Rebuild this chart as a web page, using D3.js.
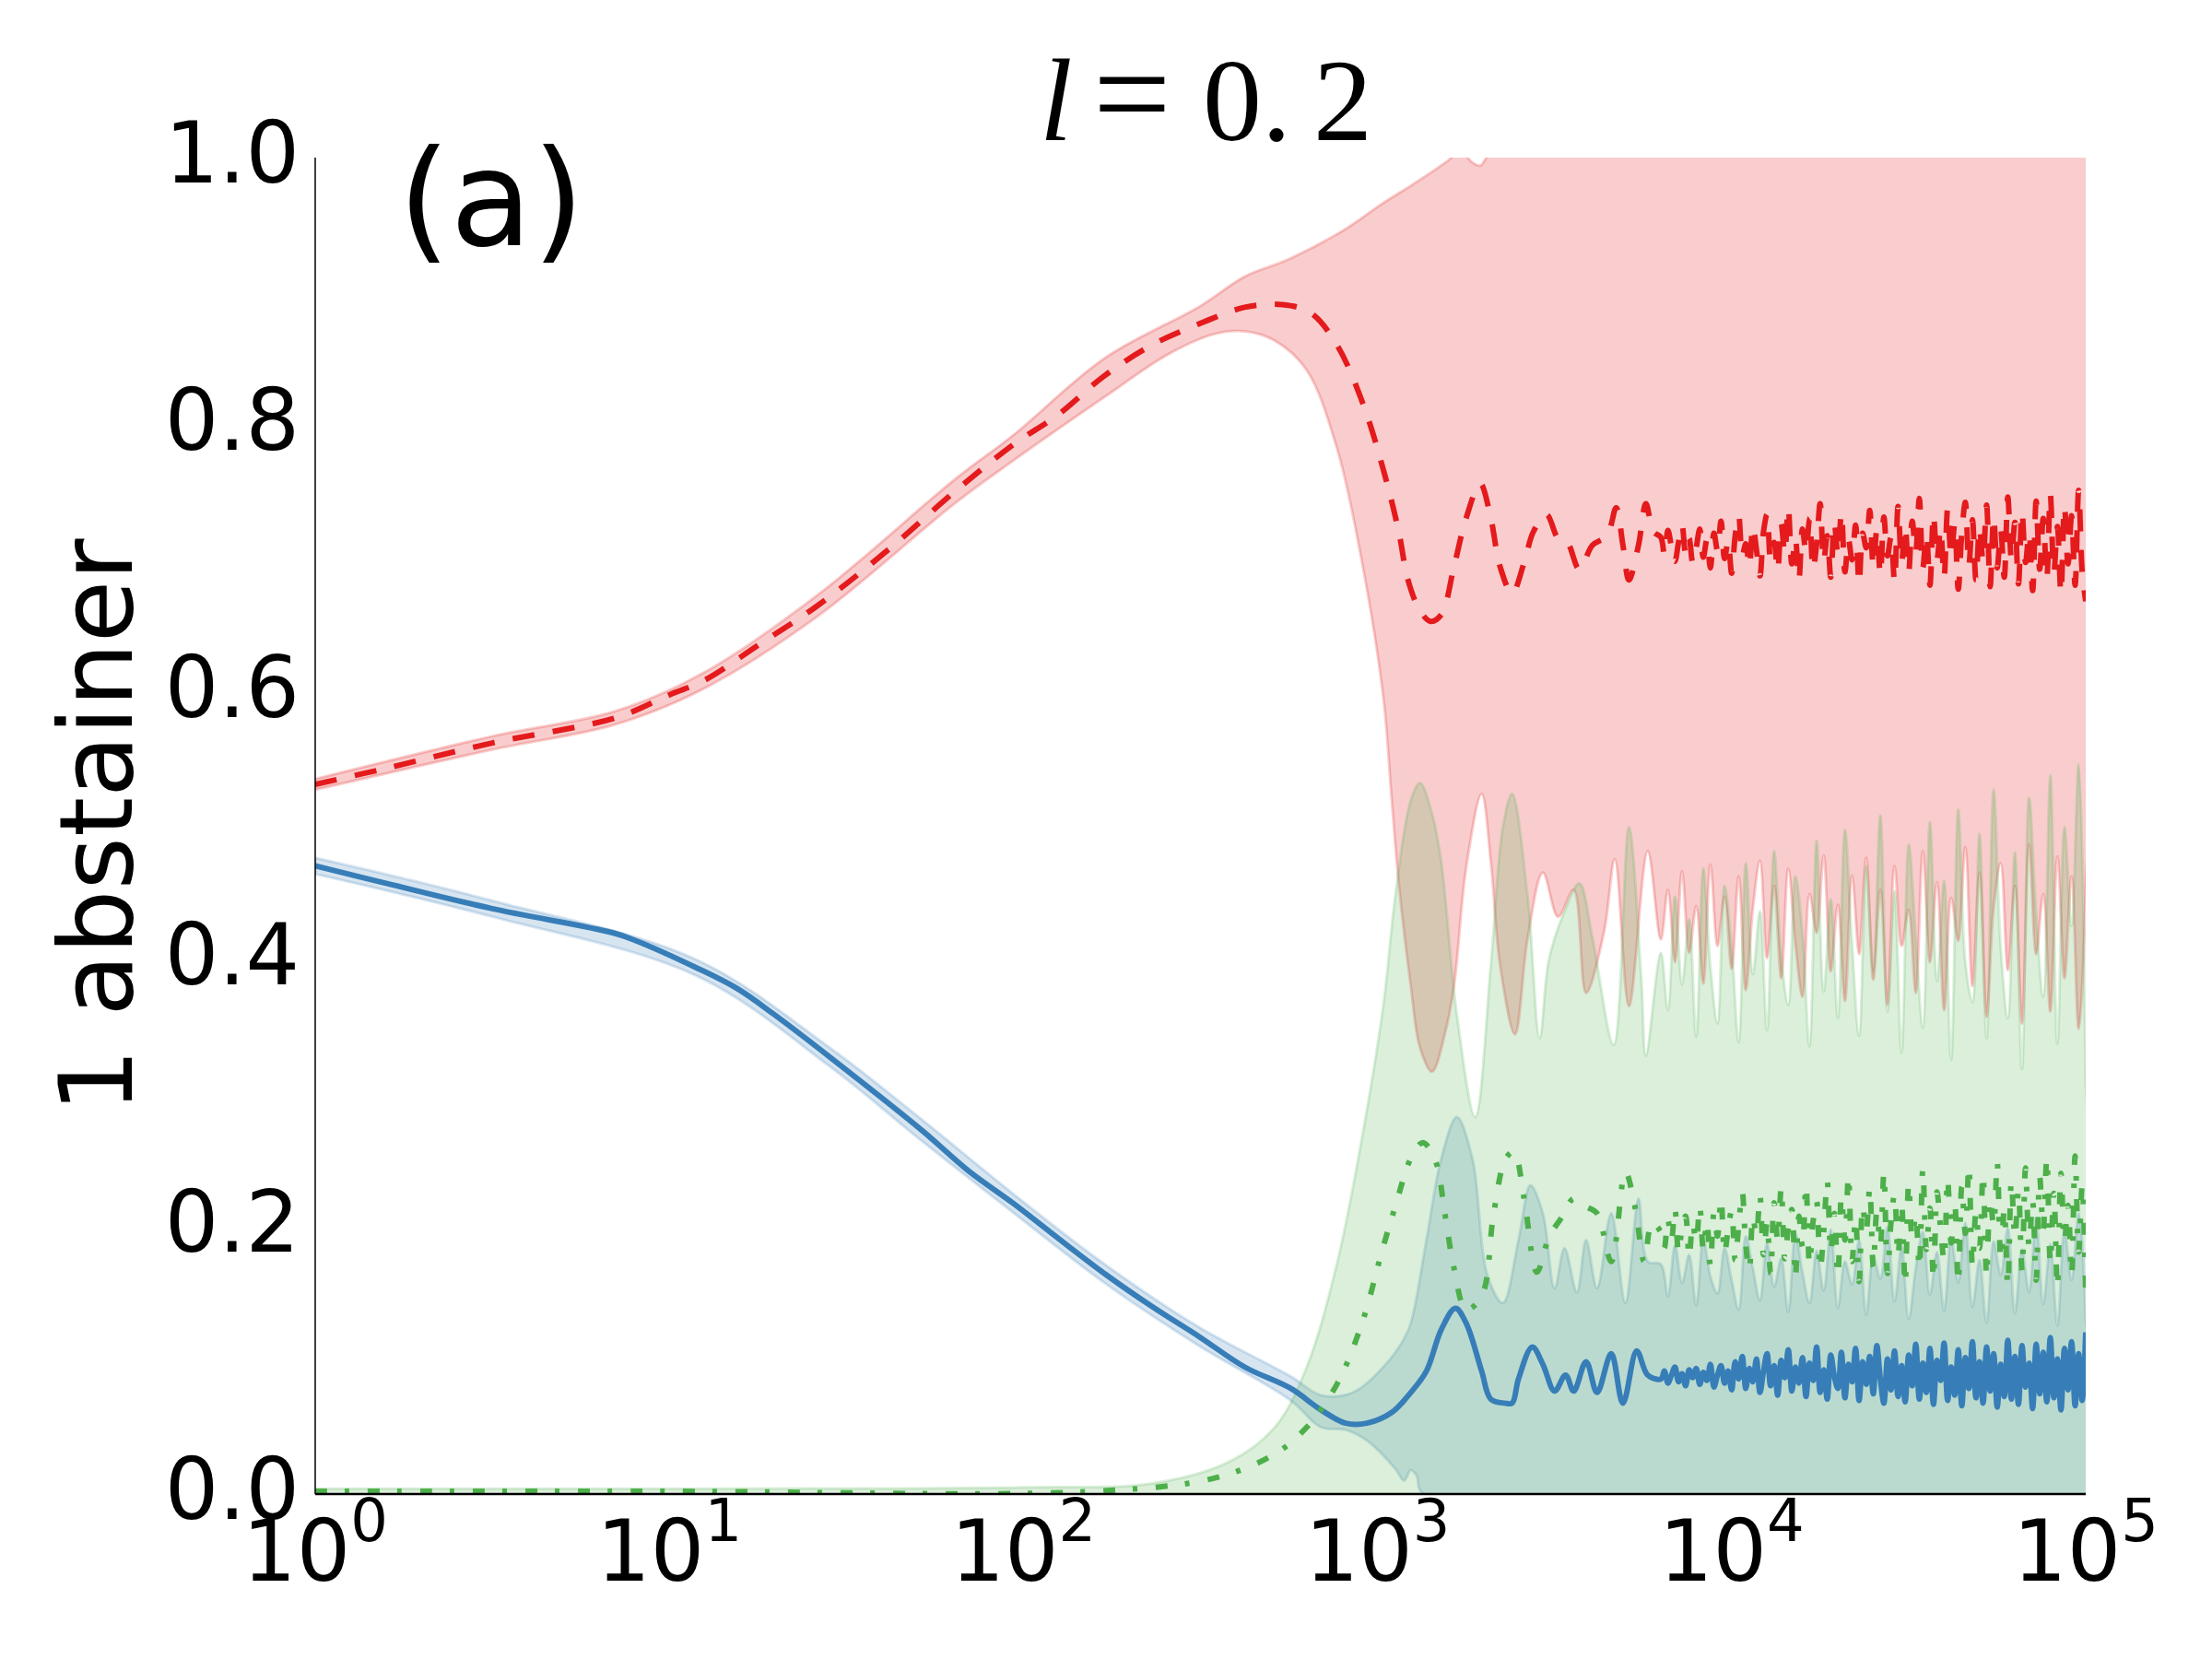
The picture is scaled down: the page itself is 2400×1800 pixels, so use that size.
<!DOCTYPE html>
<html>
<head>
<meta charset="utf-8">
<script src="https://cdn.jsdelivr.net/npm/d3@7"></script>
<style>
  body { margin: 0; background: #fff; }
</style>
</head>
<body>
<div id="container"></div>
<script>
// every series is a list of [log10(t), value]

let xTickExps = [0, 1, 2, 3, 4, 5];
let yTicks = [0.0, 0.2, 0.4, 0.6, 0.8, 1.0];

// mean curves, early part
let redMeanHead = [[0,0.531],[0.2,0.543],[0.5,0.562],[0.85,0.581],[1.0,0.598],[1.1,0.609],[1.25,0.635],[1.42,0.665],[1.62,0.707],[1.81,0.751],[1.97,0.785],[2.1,0.808],[2.23,0.837],[2.365,0.860],[2.5,0.876],[2.625,0.888],[2.73,0.890],[2.81,0.884],[2.885,0.860],[2.96,0.815],[3.02,0.763],[3.06,0.72],[3.086,0.684],[3.12,0.661],[3.15,0.653],[3.18,0.658],[3.216,0.694],[3.25,0.730],[3.29,0.756],[3.32,0.730],[3.346,0.694],[3.38,0.674],[3.414,0.697],[3.44,0.72],[3.477,0.733],[3.51,0.715],[3.536,0.712],[3.57,0.692],[3.607,0.71],[3.648,0.717],[3.674,0.738],[3.693,0.71],[3.71,0.684],[3.737,0.71],[3.758,0.741],[3.779,0.72]];
let blueMeanHead = [[0,0.470],[0.2,0.457],[0.5,0.438],[0.84,0.420],[0.906,0.414],[1.075,0.394],[1.193,0.378],[1.295,0.359],[1.453,0.327],[1.714,0.272],[1.844,0.242],[1.974,0.217],[2.1,0.191],[2.234,0.164],[2.365,0.140],[2.495,0.118],[2.625,0.095],[2.755,0.079],[2.84,0.063],[2.91,0.053],[2.97,0.053],[3.04,0.061],[3.094,0.076],[3.138,0.092],[3.18,0.123],[3.22,0.139],[3.25,0.128],[3.294,0.092],[3.32,0.071],[3.36,0.068],[3.38,0.068],[3.398,0.086],[3.437,0.110],[3.467,0.097],[3.50,0.077],[3.531,0.089],[3.554,0.077],[3.589,0.099],[3.62,0.076],[3.66,0.105],[3.693,0.068],[3.732,0.107],[3.763,0.089]];
let greenMeanHead = [[0,0.002],[1,0.002],[2.2,0.002],[2.54,0.012],[2.71,0.030],[2.80,0.050],[2.885,0.082],[2.955,0.127],[3.016,0.185],[3.05,0.215],[3.094,0.251],[3.128,0.263],[3.164,0.249],[3.19,0.21],[3.216,0.169],[3.25,0.138],[3.294,0.148],[3.328,0.21],[3.362,0.251],[3.385,0.256],[3.414,0.221],[3.45,0.166],[3.484,0.192],[3.52,0.207],[3.554,0.221],[3.589,0.215],[3.62,0.21],[3.66,0.174],[3.70,0.241],[3.727,0.215],[3.753,0.174],[3.775,0.203]];

// band edges, early part
let redHi = [[0,0.535],[0.5,0.567],[0.85,0.586],[1.1,0.615],[1.42,0.673],[1.81,0.760],[1.97,0.792],[2.23,0.850],[2.5,0.889],[2.625,0.911],[2.75,0.924],[2.9,0.945],[3.016,0.966],[3.1,0.98],[3.2,0.998],[3.23,1.005],[3.27,0.996],[3.29,0.994],[3.32,1.003],[3.5,1.006],[4.0,1.003],[4.5,1.007],[5.0,1.004]];
let redLoHead = [[0,0.527],[0.5,0.557],[0.85,0.576],[1.1,0.603],[1.42,0.657],[1.81,0.742],[1.97,0.773],[2.23,0.821],[2.41,0.853],[2.54,0.868],[2.625,0.870],[2.71,0.863],[2.80,0.841],[2.885,0.783],[2.955,0.699],[3.016,0.597],[3.04,0.52],[3.06,0.457],[3.094,0.38],[3.12,0.334],[3.154,0.316],[3.19,0.344],[3.216,0.38],[3.25,0.468],[3.294,0.524],[3.32,0.473],[3.346,0.396],[3.388,0.344],[3.424,0.416],[3.467,0.465],[3.51,0.432],[3.554,0.452],[3.589,0.375],[3.64,0.421],[3.67,0.475],[3.71,0.365],[3.763,0.481]];
let greenHiHead = [[0,0.004],[1,0.004],[2.0,0.005],[2.365,0.008],[2.58,0.024],[2.71,0.050],[2.80,0.095],[2.885,0.172],[2.955,0.265],[3.016,0.365],[3.05,0.447],[3.094,0.519],[3.12,0.532],[3.154,0.509],[3.18,0.473],[3.224,0.359],[3.276,0.282],[3.32,0.396],[3.354,0.499],[3.38,0.524],[3.424,0.447],[3.458,0.341],[3.484,0.40],[3.528,0.436],[3.57,0.457],[3.607,0.416],[3.667,0.336],[3.71,0.499],[3.745,0.386],[3.758,0.328]];
let greenLo = [[0,0],[5,0]];
let blueHiHead = [[0,0.476],[0.5,0.444],[1.075,0.400],[1.453,0.334],[1.714,0.280],[1.974,0.224],[2.234,0.171],[2.495,0.125],[2.755,0.088],[2.84,0.074],[2.93,0.076],[3.016,0.095],[3.07,0.114],[3.094,0.128],[3.138,0.19],[3.18,0.251],[3.224,0.282],[3.268,0.251],[3.31,0.164],[3.354,0.143],[3.398,0.19],[3.432,0.231],[3.467,0.21],[3.50,0.154],[3.528,0.184],[3.563,0.151],[3.589,0.19],[3.62,0.154],[3.66,0.21],[3.70,0.143],[3.737,0.221],[3.763,0.174]];
let blueLo = [[0,0.464],[0.5,0.432],[1.075,0.388],[1.453,0.320],[1.714,0.264],[1.974,0.210],[2.234,0.157],[2.495,0.111],[2.755,0.070],[2.84,0.050],[2.91,0.048],[2.97,0.040],[3.05,0.019],[3.075,0.010],[3.094,0.018],[3.11,0.014],[3.13,0],[5,0]];

// noisy tail, fine grid for the means
let tailFine = [3.80,3.81,3.82,3.83,3.84,3.85,3.86,3.87,3.88,3.89,
  3.90,3.91,3.92,3.93,3.94,3.95,3.96,3.97,3.98,3.99,
  4.00,4.01,4.02,4.03,4.04,4.05,4.06,4.07,4.08,4.09,
  4.10,4.11,4.12,4.13,4.14,4.15,4.16,4.17,4.18,4.19,
  4.20,4.21,4.22,4.23,4.24,4.25,4.26,4.27,4.28,4.29,
  4.30,4.31,4.32,4.33,4.34,4.35,4.36,4.37,4.38,4.39,
  4.40,4.41,4.42,4.43,4.44,4.45,4.46,4.47,4.48,4.49,
  4.50,4.51,4.52,4.53,4.54,4.55,4.56,4.57,4.58,4.59,
  4.60,4.61,4.62,4.63,4.64,4.65,4.66,4.67,4.68,4.69,
  4.70,4.71,4.72,4.73,4.74,4.75,4.76,4.77,4.78,4.79,
  4.80,4.81,4.82,4.83,4.84,4.85,4.86,4.87,4.88,4.89,
  4.90,4.91,4.92,4.93,4.94,4.95,4.96,4.97,4.98,4.99,5.00];
let redMeanTail = [0.716,0.703,0.721,0.709,0.698,0.712,0.725,0.704,0.715,0.697,
  0.708,0.722,0.701,0.714,0.693,0.719,0.706,0.728,0.700,0.713,
  0.689,0.717,0.732,0.702,0.711,0.694,0.724,0.707,0.687,0.720,
  0.733,0.699,0.712,0.691,0.726,0.704,0.738,0.696,0.715,0.684,
  0.722,0.705,0.730,0.692,0.711,0.741,0.698,0.717,0.686,0.727,
  0.703,0.734,0.690,0.714,0.699,0.725,0.681,0.719,0.708,0.736,
  0.694,0.721,0.688,0.731,0.702,0.716,0.683,0.739,0.697,0.724,
  0.690,0.728,0.705,0.745,0.693,0.718,0.680,0.733,0.699,0.722,
  0.686,0.737,0.701,0.726,0.677,0.719,0.742,0.695,0.729,0.684,
  0.723,0.698,0.740,0.679,0.731,0.693,0.721,0.686,0.746,0.700,
  0.727,0.681,0.735,0.697,0.719,0.676,0.743,0.692,0.730,0.685,
  0.748,0.689,0.724,0.674,0.739,0.696,0.732,0.680,0.751,0.690,0.668];
let blueMeanTail = [0.086,0.092,0.083,0.089,0.095,0.084,0.090,0.081,0.093,0.087,
  0.094,0.082,0.091,0.085,0.097,0.080,0.089,0.096,0.083,0.092,
  0.078,0.099,0.086,0.103,0.079,0.094,0.084,0.101,0.076,0.092,
  0.105,0.081,0.096,0.074,0.100,0.087,0.108,0.077,0.095,0.083,
  0.102,0.073,0.098,0.085,0.110,0.076,0.093,0.071,0.104,0.088,
  0.079,0.106,0.072,0.097,0.084,0.109,0.070,0.099,0.082,0.103,
  0.075,0.111,0.086,0.068,0.101,0.078,0.107,0.073,0.096,0.069,
  0.104,0.081,0.112,0.071,0.098,0.076,0.109,0.067,0.100,0.085,
  0.113,0.070,0.095,0.074,0.108,0.066,0.102,0.079,0.114,0.072,
  0.099,0.068,0.110,0.077,0.105,0.065,0.097,0.073,0.115,0.071,
  0.103,0.067,0.111,0.080,0.098,0.064,0.112,0.075,0.106,0.069,
  0.117,0.072,0.101,0.063,0.109,0.078,0.114,0.066,0.105,0.070,0.121];
let greenMeanTail = [0.196,0.184,0.205,0.190,0.213,0.181,0.199,0.208,0.177,0.202,
  0.189,0.215,0.183,0.204,0.171,0.210,0.193,0.221,0.180,0.198,
  0.212,0.175,0.201,0.226,0.186,0.168,0.207,0.194,0.223,0.179,
  0.203,0.165,0.218,0.190,0.229,0.176,0.199,0.213,0.162,0.208,
  0.185,0.231,0.172,0.204,0.219,0.168,0.196,0.234,0.181,0.210,
  0.163,0.222,0.190,0.238,0.174,0.206,0.159,0.215,0.197,0.229,
  0.170,0.211,0.186,0.240,0.165,0.203,0.224,0.178,0.217,0.157,
  0.232,0.192,0.209,0.169,0.243,0.183,0.214,0.161,0.226,0.199,
  0.175,0.236,0.188,0.218,0.158,0.230,0.195,0.245,0.171,0.211,
  0.184,0.239,0.163,0.221,0.201,0.248,0.176,0.213,0.156,0.234,
  0.192,0.227,0.167,0.244,0.186,0.219,0.160,0.237,0.198,0.251,
  0.173,0.225,0.155,0.240,0.189,0.216,0.164,0.253,0.181,0.231,0.149];

// noisy tail, coarse grid for the band edges
let tailCoarse = [3.80,3.82,3.84,3.86,3.88,3.90,3.92,3.94,3.96,3.98,
  4.00,4.02,4.04,4.06,4.08,4.10,4.12,4.14,4.16,4.18,
  4.20,4.22,4.24,4.26,4.28,4.30,4.32,4.34,4.36,4.38,
  4.40,4.42,4.44,4.46,4.48,4.50,4.52,4.54,4.56,4.58,
  4.60,4.62,4.64,4.66,4.68,4.70,4.72,4.74,4.76,4.78,
  4.80,4.82,4.84,4.86,4.88,4.90,4.92,4.94,4.96,4.98,5.00];
let redLoTail = [0.415,0.452,0.398,0.466,0.405,0.440,0.382,0.471,0.410,0.447,
  0.393,0.462,0.377,0.438,0.474,0.401,0.455,0.386,0.468,0.412,
  0.372,0.449,0.420,0.478,0.391,0.441,0.369,0.463,0.404,0.476,
  0.385,0.452,0.366,0.470,0.410,0.437,0.375,0.481,0.398,0.458,
  0.362,0.446,0.414,0.484,0.380,0.465,0.357,0.439,0.472,0.392,
  0.455,0.352,0.486,0.404,0.449,0.361,0.477,0.386,0.462,0.348,0.455];
let greenHiTail = [0.405,0.362,0.447,0.381,0.430,0.342,0.468,0.395,0.352,0.455,
  0.410,0.338,0.472,0.389,0.436,0.347,0.481,0.402,0.366,0.462,
  0.420,0.335,0.489,0.376,0.445,0.356,0.497,0.412,0.343,0.470,
  0.392,0.508,0.361,0.451,0.330,0.486,0.417,0.349,0.503,0.384,
  0.459,0.325,0.512,0.398,0.368,0.494,0.341,0.527,0.409,0.356,
  0.480,0.318,0.521,0.434,0.372,0.538,0.337,0.499,0.425,0.546,0.310];
let blueHiTail = [0.172,0.148,0.186,0.158,0.179,0.141,0.191,0.163,0.150,0.184,
  0.160,0.138,0.193,0.169,0.145,0.188,0.155,0.176,0.136,0.195,
  0.166,0.143,0.182,0.152,0.198,0.139,0.174,0.157,0.190,0.134,
  0.178,0.161,0.200,0.144,0.185,0.131,0.169,0.196,0.149,0.181,
  0.137,0.192,0.158,0.203,0.140,0.175,0.128,0.189,0.164,0.199,
  0.135,0.183,0.151,0.206,0.142,0.187,0.126,0.197,0.160,0.210,0.132];

function withTail(head, ts, vs) {
  return head.concat(ts.map(function(t, i) { return [t, vs[i]]; }));
}

let redMean = withTail(redMeanHead, tailFine, redMeanTail);
let blueMean = withTail(blueMeanHead, tailFine, blueMeanTail);
let greenMean = withTail(greenMeanHead, tailFine, greenMeanTail);
let redLo = withTail(redLoHead, tailCoarse, redLoTail);
let greenHi = withTail(greenHiHead, tailCoarse, greenHiTail);
let blueHi = withTail(blueHiHead, tailCoarse, blueHiTail);

let w = 2400;
let h = 1800;
let plotLeft = 342, plotRight = 2263, plotTop = 171, plotBottom = 1621;

let red = "#e41a1c", blue = "#377eb8", green = "#4daf4a";

let viz = d3.select("#container")
  .append("svg")
    .attr("width", w)
    .attr("height", h)
    .style("display", "block")
    .style("background", "#fff");

let xScale = d3.scaleLog().domain([1, 1e5]).range([plotLeft, plotRight]);
let yScale = d3.scaleLinear().domain([0, 1]).range([plotBottom, plotTop]);

function getX(d) { return xScale(Math.pow(10, d[0])); }
function getY(d) { return yScale(d[1]); }

let lineMaker = d3.line().x(getX).y(getY).curve(d3.curveCatmullRom.alpha(0.5));

viz.append("clipPath").attr("id", "plotClip")
  .append("rect")
    .attr("x", plotLeft).attr("y", plotTop)
    .attr("width", plotRight - plotLeft).attr("height", plotBottom - plotTop);

let plot = viz.append("g").attr("clip-path", "url(#plotClip)");

// bands: upper edge forward, lower edge back
function band(hi, lo, color, op) {
  let pts = hi.concat(lo.slice().reverse());
  plot.append("path")
    .attr("d", lineMaker(pts) + "Z")
    .attr("fill", color)
    .attr("fill-opacity", op)
    .attr("stroke", color)
    .attr("stroke-opacity", op)
    .attr("stroke-width", 3)
    .attr("stroke-linejoin", "round");
}

band(redHi, redLo, red, 0.22);
band(blueHi, blueLo, blue, 0.2);
band(greenHi, greenLo, green, 0.2);

function meanLine(data, color, dash) {
  plot.append("path")
    .attr("d", lineMaker(data))
    .attr("fill", "none")
    .attr("stroke", color)
    .attr("stroke-width", 6)
    .attr("stroke-dasharray", dash)
    .attr("stroke-linejoin", "round");
}

meanLine(redMean, red, "24,20");
meanLine(blueMean, blue, null);
meanLine(greenMean, green, "13,19,5,20");

// spines
viz.append("line")
  .attr("x1", plotLeft).attr("x2", plotLeft).attr("y1", plotTop).attr("y2", plotBottom)
  .attr("stroke", "#000").attr("stroke-width", 1.5);
viz.append("line")
  .attr("x1", plotLeft).attr("x2", plotRight).attr("y1", plotBottom).attr("y2", plotBottom)
  .attr("stroke", "#000").attr("stroke-width", 2.5);

// y tick labels
viz.append("g").selectAll("text")
  .data(yTicks)
  .enter()
  .append("text")
    .attr("x", plotLeft - 17)
    .attr("y", function(d) { return yScale(d) + 27; })
    .attr("text-anchor", "end")
    .attr("font-family", "DejaVu Sans")
    .attr("font-size", 92)
    .text(function(d) { return d.toFixed(1); });

// x tick labels 10^k
let xLabels = viz.append("g").selectAll("text")
  .data(xTickExps)
  .enter()
  .append("text")
    .attr("x", function(d) { return xScale(Math.pow(10, d)); })
    .attr("y", plotBottom + 94)
    .attr("text-anchor", "middle")
    .attr("font-family", "DejaVu Sans")
    .attr("font-size", 92);
xLabels.append("tspan").text("10");
xLabels.append("tspan")
  .attr("dy", -43)
  .attr("font-size", 64)
  .text(function(d) { return d; });

// y axis label
viz.append("text")
  .attr("transform", "translate(143," + ((plotTop + plotBottom) / 2) + ") rotate(-90)")
  .attr("text-anchor", "middle")
  .attr("font-family", "DejaVu Sans")
  .attr("font-size", 110)
  .text("1 abstainer");

// panel tag
viz.append("text")
  .attr("x", 432)
  .attr("y", 266)
  .attr("font-family", "DejaVu Sans")
  .attr("font-size", 145)
  .text("(a)");

// title  l = 0. 2
let title = viz.append("text")
  .attr("y", 152)
  .attr("font-family", "Liberation Serif")
  .attr("font-size", 128);
title.append("tspan").attr("x", 1128).attr("font-style", "italic").text("l");
title.append("tspan").attr("x", 1186).attr("font-size", 150).text("=");
title.append("tspan").attr("x", 1305).text("0.");
title.append("tspan").attr("x", 1425).text("2");
</script>
</body>
</html>
